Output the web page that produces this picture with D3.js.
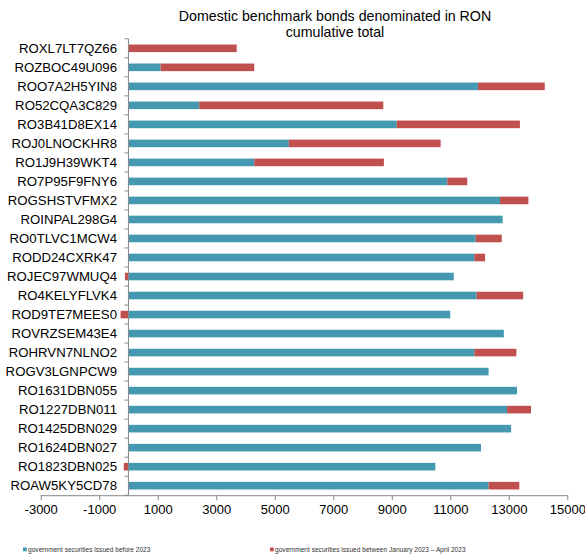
<!DOCTYPE html>
<html><head><meta charset="utf-8">
<script src="https://cdn.jsdelivr.net/npm/d3@7"></script>
<style>body{margin:0;background:#fff;} svg{display:block;font-family:"Liberation Sans",Arial,sans-serif;}</style>
</head><body><svg id="c" width="585" height="559"></svg>
<script>
const categories = ["ROXL7LT7QZ66","ROZBOC49U096","ROO7A2H5YIN8","RO52CQA3C829","RO3B41D8EX14","ROJ0LNOCKHR8","RO1J9H39WKT4","RO7P95F9FNY6","ROGSHSTVFMX2","ROINPAL298G4","RO0TLVC1MCW4","RODD24CXRK47","ROJEC97WMUQ4","RO4KELYFLVK4","ROD9TE7MEES0","ROVRZSEM43E4","ROHRVN7NLNO2","ROGV3LGNPCW9","RO1631DBN055","RO1227DBN011","RO1425DBN029","RO1624DBN027","RO1823DBN025","ROAW5KY5CD78"];
const before2023 = [0,1100,11950,2420,9170,5480,4300,10900,12700,12790,11870,11820,11120,11900,11000,12830,11820,12310,13280,12940,13080,12050,10490,12310];
const jan2023Apr2023 = [3700,3200,2280,6290,4210,5190,4430,680,970,0,890,370,-120,1590,-270,0,1440,0,0,820,0,0,-160,1050];
const xTicks = [-3000,-1000,1000,3000,5000,7000,9000,11000,13000,15000];
const seriesNames = ["government securities issued before 2023","government securities issued between January 2023 \u2013 April 2023"];
const colors = ["#4499b1","#c0504d"];
const titleLines = ["Domestic benchmark bonds denominated in RON","cumulative total"];

const svg = d3.select("#c");
const x = d3.scaleLinear().domain([-3000,15000]).range([40.7,567.3]);
const y = d3.scaleBand().domain(categories).range([38.8,495.2]).paddingInner(0.6).paddingOuter(0.3);

// bars
const g = svg.append("g");
categories.forEach((c,i)=>{
  const b = before2023[i], r = jan2023Apr2023[i];
  if (b !== 0) g.append("rect").attr("x",x(Math.min(0,b))).attr("width",Math.abs(x(b)-x(0)))
     .attr("y",y(c)).attr("height",y.bandwidth()).attr("fill",colors[0]);
  if (r !== 0) {
    const start = r > 0 ? b : 0;
    const end = start + r;
    g.append("rect").attr("x",x(Math.min(start,end))).attr("width",Math.abs(x(end)-x(start)))
     .attr("y",y(c)).attr("height",y.bandwidth()).attr("fill",colors[1]);
  }
});

// x axis
const xa = svg.append("g").attr("transform","translate(0,495.2)")
  .call(d3.axisBottom(x).tickValues(xTicks).tickFormat(d=>String(d)).tickSize(5).tickSizeOuter(0));
xa.select(".domain").attr("stroke","#888");
xa.selectAll(".tick line").attr("stroke","#888");
xa.selectAll(".tick text").attr("font-size",13).attr("fill","#000").attr("dy","0.85em")
  .attr("font-family","Liberation Sans, Arial, sans-serif");

// y axis line + ticks at band boundaries
const x0 = x(0);
svg.append("line").attr("x1",x0).attr("x2",x0).attr("y1",38.8).attr("y2",495.2).attr("stroke","#888");
for (let i=0;i<=categories.length;i++){
  const yy = 38.8 + (495.2-38.8)/categories.length*i;
  svg.append("line").attr("x1",x0-4).attr("x2",x0).attr("y1",yy).attr("y2",yy).attr("stroke","#888");
}
svg.append("g").selectAll("text").data(categories).join("text")
  .attr("x",117).attr("y",d=>y(d)+y.bandwidth()/2).attr("dy","0.35em")
  .attr("text-anchor","end").attr("font-size",13.2).attr("fill","#000").text(d=>d);

// title
svg.append("g").selectAll("text").data(titleLines).join("text")
  .attr("x",335).attr("y",(d,i)=>21+i*16).attr("text-anchor","middle")
  .attr("font-size",14.2).attr("fill","#000").text(d=>d);

// legend
const lg = [{x:23,t:seriesNames[0],c:colors[0]},{x:270,t:seriesNames[1],c:colors[1]}];
lg.forEach(l=>{
  svg.append("rect").attr("x",l.x).attr("y",547.5).attr("width",3.8).attr("height",3.8).attr("fill",l.c);
  svg.append("text").attr("x",l.x+5).attr("y",552).attr("font-size",6.6).attr("fill","#333").text(l.t);
});
</script></body></html>
